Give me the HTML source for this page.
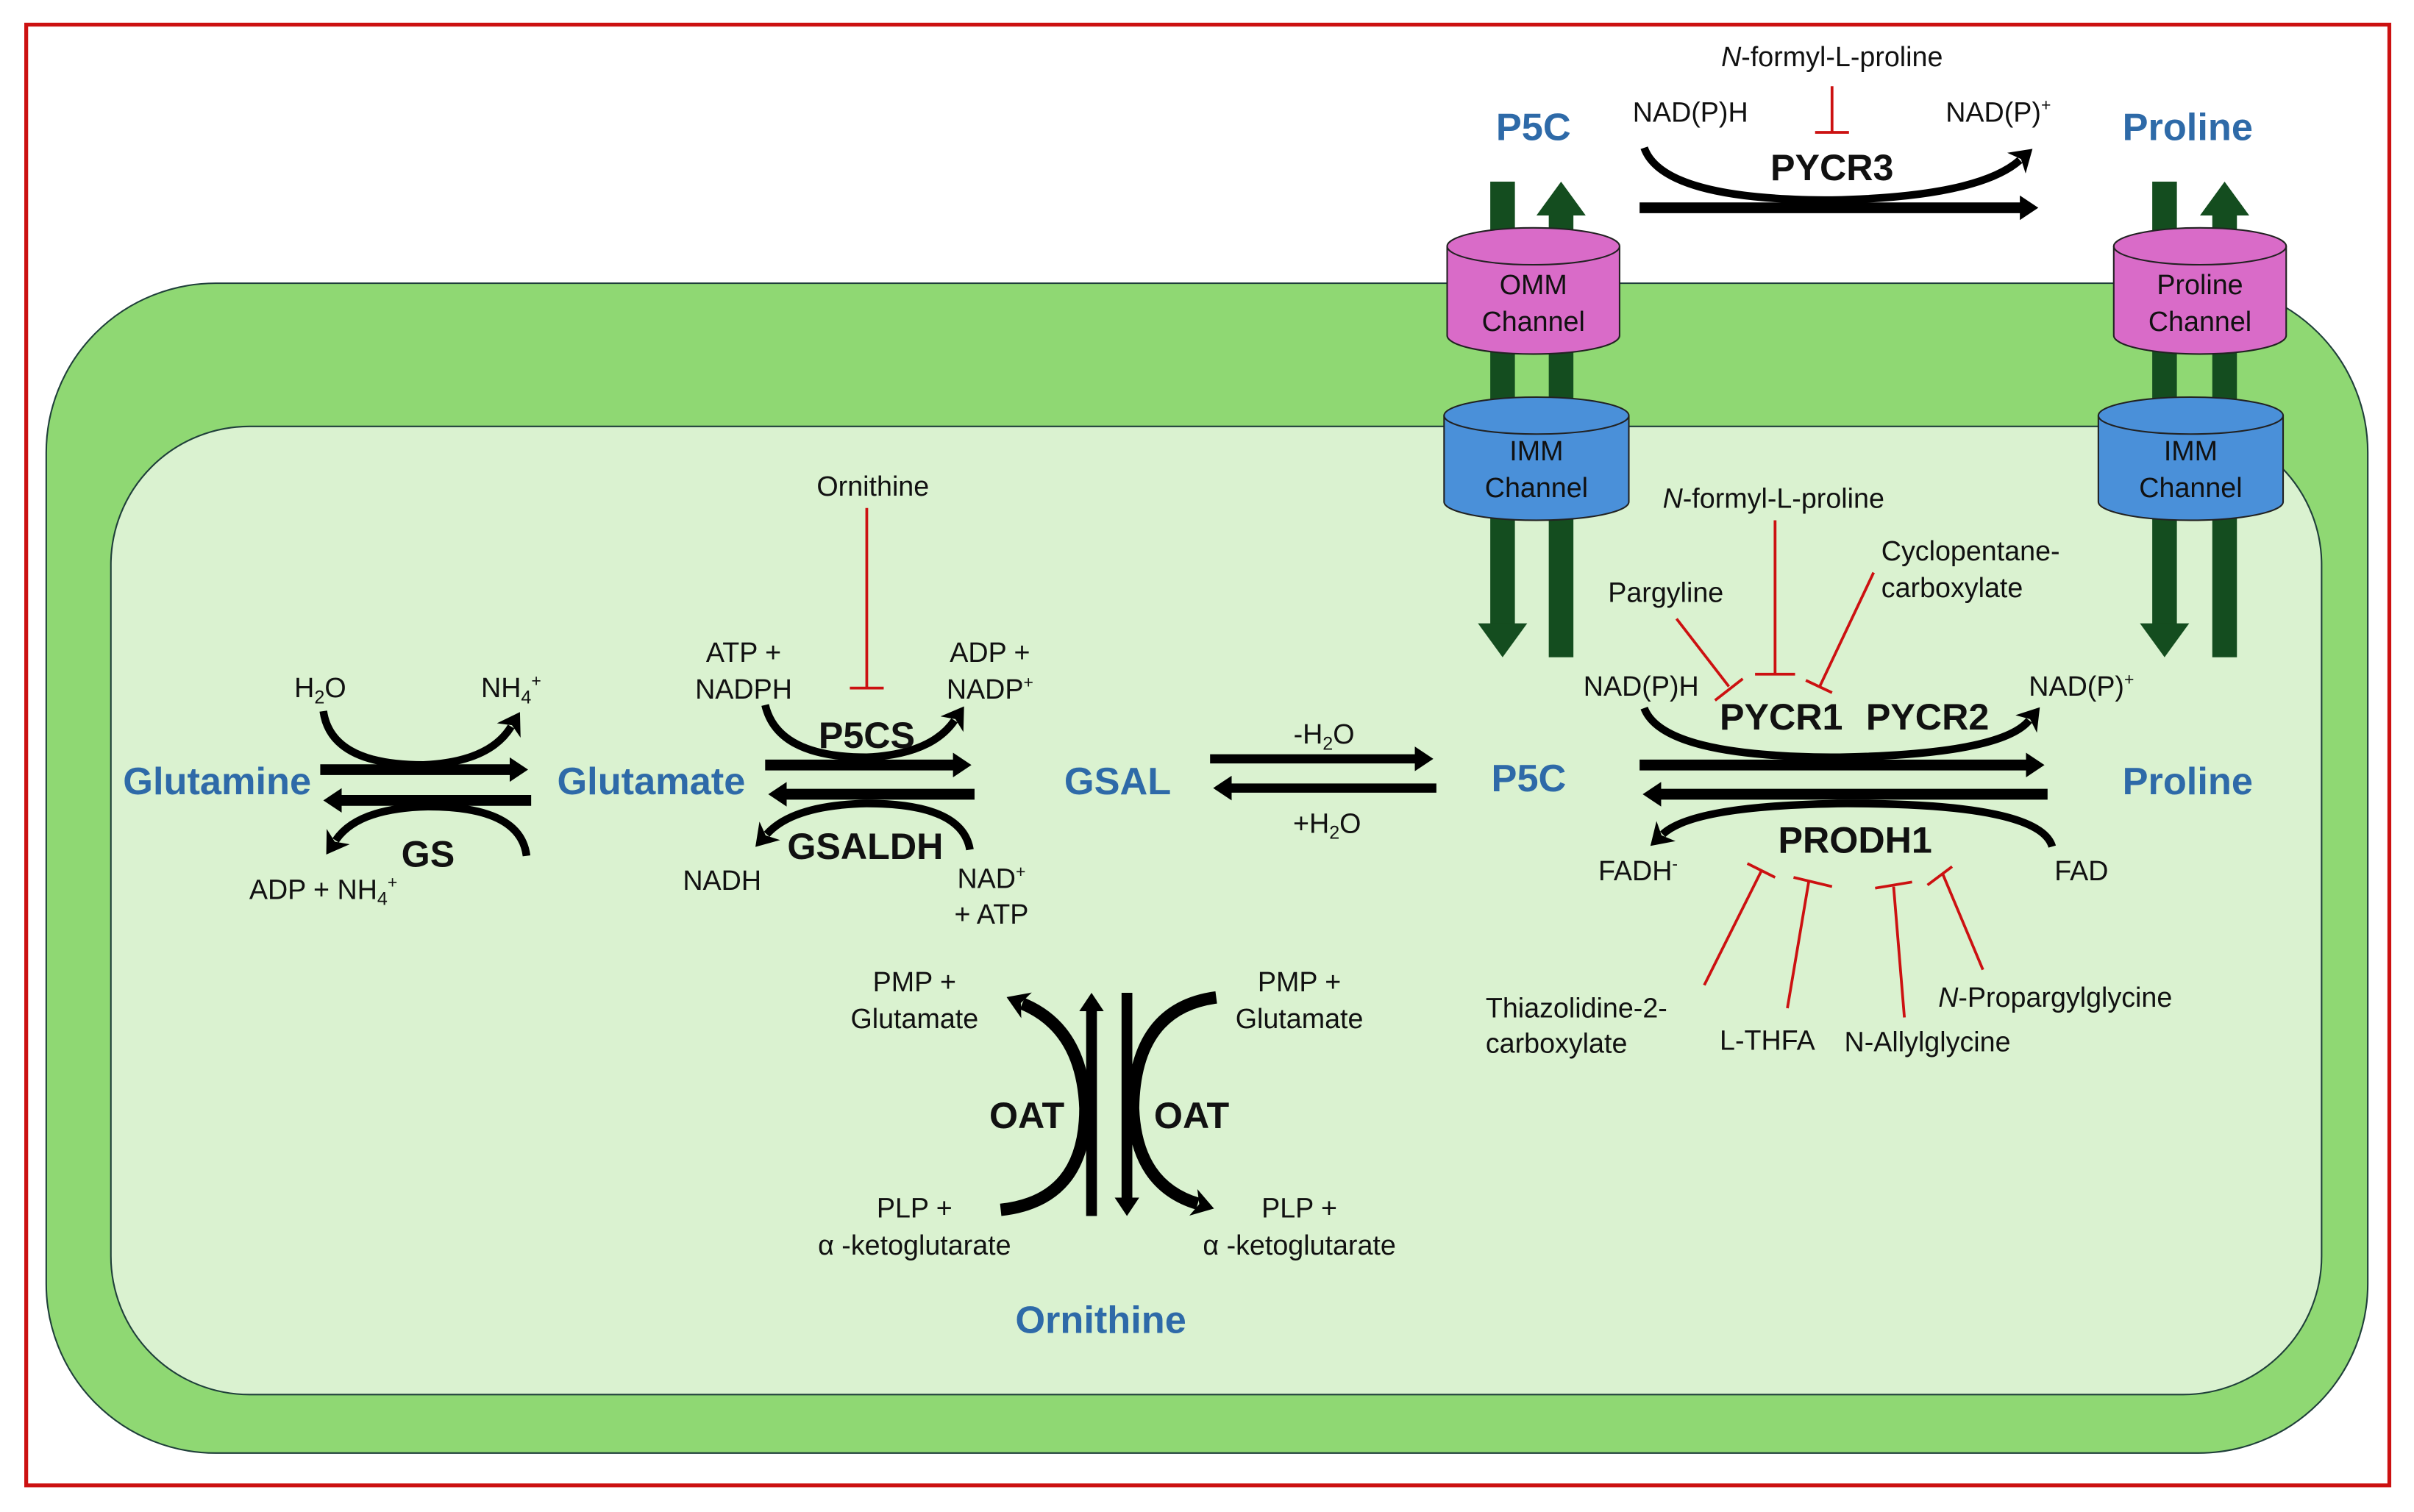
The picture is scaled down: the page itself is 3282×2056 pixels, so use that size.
<!DOCTYPE html>
<html><head><meta charset="utf-8"><style>
html,body{margin:0;padding:0;background:#fff;}
svg{display:block;}
text{font-family:"Liberation Sans",sans-serif;fill:#111;}
.b{fill:#2e6aa8;font-weight:bold;font-size:25px;}
.e{font-weight:bold;font-size:24px;}
.s{font-size:18px;}
</style></head><body>
<svg width="3282" height="2056" viewBox="0 0 1568 982.3" xmlns="http://www.w3.org/2000/svg">
<defs>
<marker id="h" markerUnits="userSpaceOnUse" markerWidth="14" markerHeight="16" refX="2" refY="8" orient="auto"><path d="M0,0 L12,8 L0,16 z" fill="#000"/></marker>
<marker id="c" markerUnits="userSpaceOnUse" markerWidth="16" markerHeight="18" refX="3" refY="9" orient="auto"><path d="M0,0 L14,9 L0,18 L4,9 z" fill="#000"/></marker>
</defs>
<rect x="0" y="0" width="1568" height="982.3" fill="#fff"/>
<rect x="17" y="16" width="1535" height="949" fill="none" stroke="#cc1111" stroke-width="2.5"/>
<rect x="30" y="184" width="1508" height="760" rx="110" fill="#8fd873" stroke="#1f3f3a" stroke-width="1"/>
<rect x="72" y="277" width="1436" height="629" rx="90" fill="#daf2d0" stroke="#1f3f3a" stroke-width="1"/>

<g fill="#144d1f">
<rect x="968" y="118" width="16" height="290"/><polygon points="960,405 992,405 976,427"/>
<rect x="1006" y="138" width="16" height="289"/><polygon points="998,140 1030,140 1014,118"/>
<rect x="1398" y="118" width="16" height="290"/><polygon points="1390,405 1422,405 1406,427"/>
<rect x="1437" y="138" width="16" height="289"/><polygon points="1429,140 1461,140 1445,118"/>
</g>
<g stroke="#222" stroke-width="1">
<path d="M940,160 L940,218 A56,12 0 0 0 1052,218 L1052,160" fill="#d96bc8"/>
<ellipse cx="996" cy="160" rx="56" ry="12" fill="#d96bc8"/>
<path d="M938,270 L938,326 A60,12 0 0 0 1058,326 L1058,270" fill="#4a90d9"/>
<ellipse cx="998" cy="270" rx="60" ry="12" fill="#4a90d9"/>
<path d="M1373,160 L1373,218 A56,12 0 0 0 1485,218 L1485,160" fill="#d96bc8"/>
<ellipse cx="1429" cy="160" rx="56" ry="12" fill="#d96bc8"/>
<path d="M1363,270 L1363,326 A60,12 0 0 0 1483,326 L1483,270" fill="#4a90d9"/>
<ellipse cx="1423" cy="270" rx="60" ry="12" fill="#4a90d9"/>
</g>
<g text-anchor="middle">
<text x="996" y="191" style="font-size:18px">OMM</text><text x="996" y="215" style="font-size:18px">Channel</text>
<text x="998" y="299" style="font-size:18px">IMM</text><text x="998" y="323" style="font-size:18px">Channel</text>
<text x="1429" y="191" style="font-size:18px">Proline</text><text x="1429" y="215" style="font-size:18px">Channel</text>
<text x="1423" y="299" style="font-size:18px">IMM</text><text x="1423" y="323" style="font-size:18px">Channel</text>
</g>

<g text-anchor="middle">
<text x="996" y="91" class="b">P5C</text>
<text x="1421" y="91" class="b">Proline</text>
<text x="141" y="516" class="b">Glutamine</text>
<text x="423" y="516" class="b">Glutamate</text>
<text x="726" y="516" class="b">GSAL</text>
<text x="993" y="514" class="b">P5C</text>
<text x="1421" y="516" class="b">Proline</text>
<text x="715" y="866" class="b">Ornithine</text>
</g>

<g stroke="#000" fill="none">
<line x1="1065" y1="135" x2="1314" y2="135" stroke-width="7" marker-end="url(#h)"/>
<path d="M1068,96 Q1080,130 1190,130 Q1285,128 1312,104" stroke-width="5" marker-end="url(#c)"/>
<line x1="208" y1="500" x2="333" y2="500" stroke-width="7" marker-end="url(#h)"/>
<line x1="345" y1="520" x2="220" y2="520" stroke-width="7" marker-end="url(#h)"/>
<path d="M210,462 Q215,497 275,497 Q318,495 332,472" stroke-width="5" marker-end="url(#c)"/>
<path d="M342,556 Q338,524 278,524 Q232,525 218,546" stroke-width="5" marker-end="url(#c)"/>
<line x1="497" y1="497" x2="621" y2="497" stroke-width="7" marker-end="url(#h)"/>
<line x1="633" y1="516" x2="509" y2="516" stroke-width="7" marker-end="url(#h)"/>
<path d="M497,458 Q505,492 563,492 Q605,490 620,468" stroke-width="5" marker-end="url(#c)"/>
<path d="M630,552 Q625,522 563,522 Q515,523 498,542" stroke-width="5" marker-end="url(#c)"/>
<line x1="786" y1="493" x2="921" y2="493" stroke-width="6" marker-end="url(#h)"/>
<line x1="933" y1="512" x2="798" y2="512" stroke-width="6" marker-end="url(#h)"/>
<line x1="1065" y1="497" x2="1318" y2="497" stroke-width="7" marker-end="url(#h)"/>
<line x1="1330" y1="516" x2="1077" y2="516" stroke-width="7" marker-end="url(#h)"/>
<path d="M1068,460 Q1080,492 1195,492 Q1300,490 1318,468" stroke-width="5" marker-end="url(#c)"/>
<path d="M1333,550 Q1325,522 1200,522 Q1100,523 1080,542" stroke-width="5" marker-end="url(#c)"/>
<line x1="709" y1="790" x2="709" y2="655" stroke-width="7" marker-end="url(#h)"/>
<line x1="732" y1="645" x2="732" y2="780" stroke-width="7" marker-end="url(#h)"/>
<path d="M650,786 Q705,780 705,720 Q703,668 664,652" stroke-width="8" marker-end="url(#c)"/>
<path d="M790,648 Q737,655 736,720 Q738,770 778,782" stroke-width="8" marker-end="url(#c)"/>
</g>

<g stroke="#cc1111" stroke-width="1.8" fill="none">
<line x1="1190" y1="56" x2="1190" y2="86"/><line x1="1179" y1="86" x2="1201" y2="86"/>
<line x1="563" y1="330" x2="563" y2="447"/><line x1="552" y1="447" x2="574" y2="447"/>
<line x1="1153" y1="338" x2="1153" y2="438"/><line x1="1140" y1="438" x2="1166" y2="438"/>
<line x1="1089" y1="402" x2="1123" y2="446"/><line x1="1114" y1="455" x2="1132" y2="441"/>
<line x1="1217" y1="372" x2="1182" y2="446"/><line x1="1173" y1="442" x2="1190" y2="450"/>
<line x1="1107" y1="640" x2="1144" y2="566"/><line x1="1135" y1="561" x2="1153" y2="570"/>
<line x1="1161" y1="655" x2="1175" y2="572"/><line x1="1165" y1="570" x2="1190" y2="576"/>
<line x1="1237" y1="661" x2="1230" y2="576"/><line x1="1218" y1="577" x2="1242" y2="573"/>
<line x1="1288" y1="630" x2="1262" y2="568"/><line x1="1252" y1="575" x2="1268" y2="563"/>
</g>

<g text-anchor="middle">
<text x="1190" y="117" class="e">PYCR3</text>
<text x="278" y="563" class="e">GS</text>
<text x="563" y="486" class="e">P5CS</text>
<text x="562" y="558" class="e">GSALDH</text>
<text x="1157" y="474" class="e">PYCR1</text>
<text x="1252" y="474" class="e">PYCR2</text>
<text x="1205" y="554" class="e">PRODH1</text>
<text x="667" y="733" class="e">OAT</text>
<text x="774" y="733" class="e">OAT</text>
</g>

<g text-anchor="middle">
<text x="1190" y="43" class="s"><tspan font-style="italic">N</tspan>-formyl-L-proline</text>
<text x="1098" y="79" class="s">NAD(P)H</text>
<text x="1298" y="79" class="s">NAD(P)<tspan font-size="11" dy="-7">+</tspan></text>
<text x="1152" y="330" class="s"><tspan font-style="italic">N</tspan>-formyl-L-proline</text>
<text x="1082" y="391" class="s">Pargyline</text>
<text x="1222" y="364" text-anchor="start" class="s">Cyclopentane-</text>
<text x="1222" y="388" text-anchor="start" class="s">carboxylate</text>
<text x="1066" y="452" class="s">NAD(P)H</text>
<text x="1352" y="452" class="s">NAD(P)<tspan font-size="11" dy="-7">+</tspan></text>
<text x="1064" y="572" class="s">FADH<tspan font-size="11" dy="-7">-</tspan></text>
<text x="1352" y="572" class="s">FAD</text>
<text x="965" y="661" text-anchor="start" class="s">Thiazolidine-2-</text>
<text x="965" y="684" text-anchor="start" class="s">carboxylate</text>
<text x="1148" y="682" class="s">L-THFA</text>
<text x="1252" y="683" class="s">N-Allylglycine</text>
<text x="1335" y="654" class="s"><tspan font-style="italic">N</tspan>-Propargylglycine</text>
<text x="567" y="322" class="s">Ornithine</text>
<text x="483" y="430" class="s">ATP +</text>
<text x="483" y="454" class="s">NADPH</text>
<text x="643" y="430" class="s">ADP +</text>
<text x="643" y="454" class="s">NADP<tspan font-size="11" dy="-7">+</tspan></text>
<text x="469" y="578" class="s">NADH</text>
<text x="644" y="577" class="s">NAD<tspan font-size="11" dy="-7">+</tspan></text>
<text x="644" y="600" class="s">+ ATP</text>
<text x="860" y="483" class="s">-H<tspan font-size="12" dy="4">2</tspan><tspan dy="-4">O</tspan></text>
<text x="862" y="541" class="s">+H<tspan font-size="12" dy="4">2</tspan><tspan dy="-4">O</tspan></text>
<text x="208" y="453" class="s">H<tspan font-size="12" dy="4">2</tspan><tspan dy="-4">O</tspan></text>
<text x="332" y="453" class="s">NH<tspan font-size="12" dy="4">4</tspan><tspan font-size="11" dy="-11">+</tspan></text>
<text x="210" y="584" class="s">ADP + NH<tspan font-size="12" dy="4">4</tspan><tspan font-size="11" dy="-11">+</tspan></text>
<text x="594" y="644" class="s">PMP +</text>
<text x="594" y="668" class="s">Glutamate</text>
<text x="844" y="644" class="s">PMP +</text>
<text x="844" y="668" class="s">Glutamate</text>
<text x="594" y="791" class="s">PLP +</text>
<text x="594" y="815" class="s">α -ketoglutarate</text>
<text x="844" y="791" class="s">PLP +</text>
<text x="844" y="815" class="s">α -ketoglutarate</text>
</g>
</svg>
</body></html>
